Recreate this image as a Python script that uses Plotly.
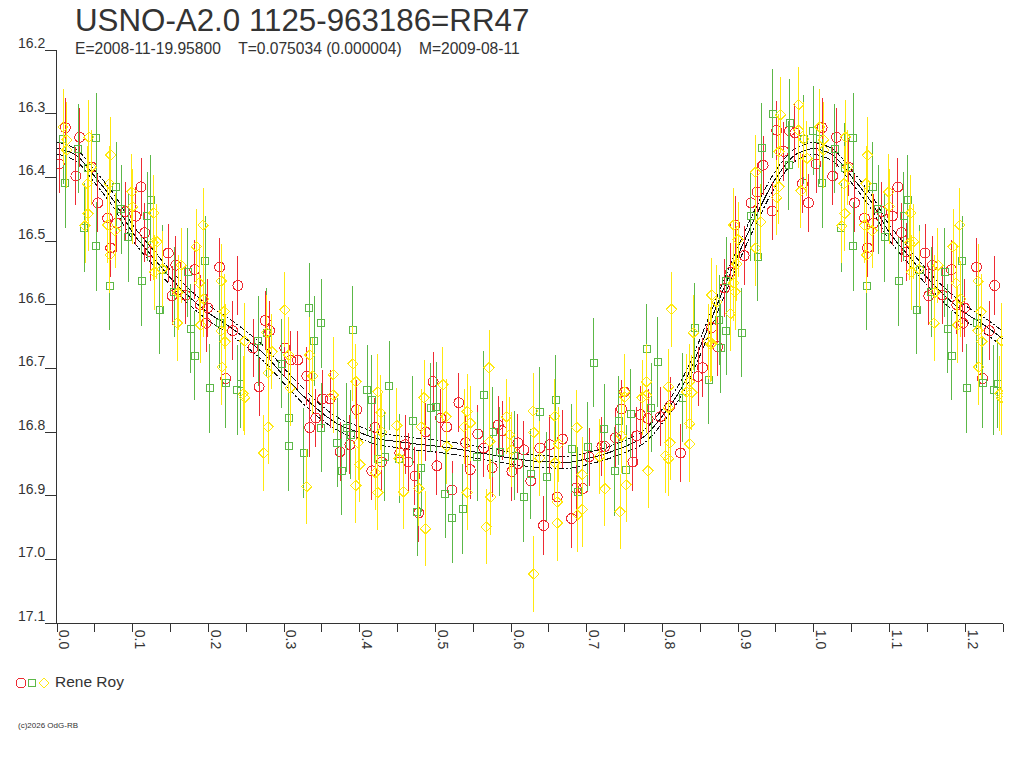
import plotly.graph_objects as go

# light curve values, phase 0-1 (phase 1-1.25 is the same data repeated)
red_phase = [.003,.011,.025,.030,.046,.054,.067,.071,.079,.090,.104,.111,.116,.123,.147,.152,.157,.170,.182,.189,.197,.199,.215,.223,.232,.239,.259,.267,.275,.281,.301,.309,.318,.330,.334,.342,.351,.361,.374,.387,.396,.416,.420,.429,.453,.460,.464,.473,.478,.487,.497,.502,.507,.515,.522,.531,.540,.546,.556,.564,.575,.583,.588,.601,.609,.609,.617,.626,.638,.643,.651,.661,.668,.680,.686,.695,.703,.720,.724,.738,.746,.750,.761,.766,.771,.781,.797,.810,.824,.847,.853,.865,.873,.882,.890,.896,.908,.917,.925,.933,.945,.951,.960,.968,.975,.985,.993]
red_mag = [16.379,16.322,16.398,16.337,16.384,16.440,16.464,16.511,16.472,16.454,16.461,16.415,16.487,16.517,16.519,16.586,16.538,16.585,16.545,16.600,16.629,16.605,16.541,16.716,16.641,16.570,16.668,16.729,16.625,16.641,16.668,16.687,16.687,16.712,16.793,16.778,16.748,16.748,16.831,16.820,16.765,16.861,16.793,16.847,16.833,16.820,16.847,16.869,16.927,16.800,16.721,16.853,16.778,16.792,16.891,16.754,16.817,16.859,16.803,16.825,16.856,16.789,16.798,16.862,16.817,16.850,16.828,16.877,16.825,16.947,16.820,16.902,16.811,16.936,16.888,16.889,16.839,16.823,16.823,16.809,16.764,16.737,16.847,16.806,16.773,16.779,16.776,16.759,16.833,16.713,16.699,16.636,16.666,16.574,16.549,16.475,16.523,16.440,16.423,16.381,16.453,16.326,16.359,16.327,16.330,16.410,16.440]

green_phase = [.008,.011,.028,.036,.041,.052,.052,.070,.078,.085,.094,.112,.119,.124,.136,.140,.155,.173,.177,.182,.196,.202,.215,.223,.238,.243,.266,.277,.297,.306,.306,.326,.333,.340,.349,.349,.370,.376,.383,.388,.391,.410,.416,.424,.433,.439,.452,.470,.476,.481,.494,.501,.513,.522,.536,.555,.564,.576,.585,.605,.617,.626,.638,.647,.659,.680,.688,.701,.709,.723,.737,.742,.752,.758,.779,.785,.794,.827,.843,.861,.875,.877,.884,.884,.905,.917,.926,.931,.946,.967,.968,.987,.999]
green_mag = [16.340,16.409,16.355,16.479,16.385,16.338,16.508,16.570,16.415,16.450,16.494,16.563,16.461,16.435,16.608,16.545,16.580,16.549,16.638,16.680,16.531,16.731,16.629,16.723,16.734,16.724,16.657,16.644,16.693,16.778,16.822,16.833,16.605,16.657,16.629,16.793,16.817,16.861,16.793,16.804,16.640,16.734,16.749,16.842,16.839,16.727,16.842,16.782,16.925,16.856,16.762,16.760,16.897,16.935,16.921,16.839,16.742,16.800,16.831,16.837,16.902,16.866,16.768,16.870,16.749,16.826,16.894,16.823,16.691,16.795,16.862,16.782,16.859,16.771,16.669,16.762,16.690,16.746,16.636,16.718,16.624,16.668,16.563,16.641,16.644,16.461,16.525,16.354,16.300,16.381,16.315,16.340,16.327]

yellow_phase = [.008,.013,.013,.037,.040,.041,.042,.045,.067,.069,.070,.071,.077,.099,.100,.127,.128,.129,.132,.139,.159,.160,.164,.184,.188,.190,.193,.194,.217,.217,.218,.221,.222,.246,.248,.248,.273,.277,.279,.279,.284,.301,.306,.308,.330,.334,.338,.365,.365,.391,.395,.395,.398,.400,.421,.424,.424,.428,.429,.449,.452,.458,.478,.481,.485,.487,.510,.514,.515,.538,.542,.542,.546,.567,.571,.572,.573,.594,.598,.601,.629,.630,.630,.638,.658,.658,.661,.661,.663,.687,.688,.694,.694,.717,.724,.744,.746,.750,.750,.752,.773,.779,.779,.781,.804,.808,.808,.808,.810,.812,.832,.836,.836,.836,.839,.841,.861,.864,.865,.865,.872,.890,.894,.894,.896,.898,.900,.923,.923,.930,.951,.954,.954,.956,.980,.980,.983,.987,.991]
yellow_mag = [16.321,16.341,16.357,16.476,16.410,16.457,16.337,16.384,16.475,16.410,16.522,16.365,16.484,16.423,16.446,16.503,16.456,16.549,16.501,16.544,16.629,16.581,16.538,16.509,16.566,16.632,16.475,16.591,16.563,16.641,16.698,16.611,16.658,16.740,16.746,16.657,16.833,16.644,16.707,16.792,16.674,16.608,16.679,16.731,16.886,16.679,16.712,16.710,16.742,16.693,16.721,16.884,16.817,16.851,16.864,16.895,16.737,16.770,16.800,16.790,16.842,16.894,16.889,16.792,16.746,16.952,16.726,16.776,16.823,16.792,16.768,16.895,16.786,16.949,16.699,16.815,16.902,16.776,16.804,16.828,16.767,16.801,17.023,16.841,16.775,16.848,16.910,16.943,16.819,16.793,16.930,16.867,16.922,16.839,16.889,16.925,16.806,16.737,16.745,16.883,16.746,16.721,16.742,16.861,16.837,16.729,16.762,16.842,16.817,16.607,16.737,16.721,16.787,16.819,16.738,16.644,16.658,16.663,16.585,16.661,16.596,16.614,16.566,16.475,16.580,16.536,16.498,16.392,16.511,16.470,16.432,16.360,16.415,16.302,16.286,16.326,16.421,16.340,16.370]

red_err = 0.046
green_err = 0.070
yellow_err = 0.059

# fitted curve and its error band
curve_phase = [0,.025,.05,.075,.1,.125,.15,.175,.2,.225,.25,.275,.3,.325,.35,.375,.4,.425,.45,.475,.5,.525,.55,.575,.6,.625,.65,.675,.7,.725,.75,.775,.8,.825,.85,.875,.9,.925,.95,.975,1.0]
curve_mag = [16.354,16.365,16.399,16.437,16.487,16.523,16.558,16.588,16.613,16.632,16.654,16.679,16.712,16.743,16.770,16.790,16.801,16.811,16.815,16.819,16.822,16.826,16.831,16.836,16.841,16.845,16.847,16.848,16.842,16.834,16.823,16.808,16.775,16.731,16.666,16.592,16.522,16.457,16.401,16.365,16.354]
band_halfwidth = [.0094,.0094,.010,.011,.012,.012,.012,.012,.012,.012,.012,.012,.012,.012,.011,.010,.0094,.0094,.0094,.0094,.0094,.0094,.0094,.0094,.0094,.0094,.0094,.0094,.0094,.0094,.0094,.010,.011,.012,.013,.013,.013,.013,.012,.010,.0094]

y_ticks = [16.2,16.3,16.4,16.5,16.6,16.7,16.8,16.9,17.0,17.1]
x_ticks = [0,.1,.2,.3,.4,.5,.6,.7,.8,.9,1.0,1.1,1.2]

TITLE = "USNO-A2.0 1125-963186=RR47"
SUBTITLE = "E=2008-11-19.95800    T=0.075034 (0.000004)    M=2009-08-11"

RED = "#ee2b33"
GREEN = "#5cb848"
YELLOW = "#ffe810"
DARK = "#333333"
FONT = "Liberation Sans"


def wrap(phase, mag):
    # phase plot runs on to 1.25
    xs = list(phase) + [p + 1 for p in phase if p + 1 <= 1.25]
    ys = list(mag) + [m for p, m in zip(phase, mag) if p + 1 <= 1.25]
    return xs, ys


fig = go.Figure()

# curve goes under the points
cx, cy = wrap(curve_phase, curve_mag)
_, hw = wrap(curve_phase, band_halfwidth)
order = sorted(range(len(cx)), key=lambda i: cx[i])
cx = [cx[i] for i in order]
cy = [cy[i] for i in order]
hw = [hw[i] for i in order]

fig.add_trace(go.Scatter(x=cx, y=cy, mode="lines", line=dict(color="#111111", width=1, shape="spline")))
fig.add_trace(go.Scatter(x=cx, y=[m - h for m, h in zip(cy, hw)], mode="lines",
                         line=dict(color="#111111", width=1, dash="6px,2px,2px,2px", shape="spline")))
fig.add_trace(go.Scatter(x=cx, y=[m + h for m, h in zip(cy, hw)], mode="lines",
                         line=dict(color="#111111", width=1, dash="6px,2px,2px,2px", shape="spline")))

for name, phase, mag, err, color, symbol, size in [
    ("red", red_phase, red_mag, red_err, RED, "circle-open", 10),
    ("green", green_phase, green_mag, green_err, GREEN, "square-open", 7),
    ("yellow", yellow_phase, yellow_mag, yellow_err, YELLOW, "diamond-open", 8),
]:
    xs, ys = wrap(phase, mag)
    fig.add_trace(go.Scatter(x=xs, y=ys, mode="markers", name=name,
                             marker=dict(symbol=symbol, size=size, color=color, line=dict(width=1, color=color)),
                             error_y=dict(type="constant", value=err, color=color, thickness=1, width=0)))

# legend keys sit on a full-page axis pair
for key_x, color, symbol, size in [(21, RED, "circle-open", 10), (32, GREEN, "square-open", 7), (44, YELLOW, "diamond-open", 8)]:
    fig.add_trace(go.Scatter(x=[key_x], y=[683], xaxis="x2", yaxis="y2", mode="markers",
                             marker=dict(symbol=symbol, size=size, color=color, line=dict(width=1, color=color))))

fig.update_layout(
    width=1024, height=768,
    margin=dict(l=0, r=0, t=0, b=0, autoexpand=False),
    paper_bgcolor="white", plot_bgcolor="rgba(0,0,0,0)",
    showlegend=False,
    font=dict(family=FONT, color=DARK, size=14),
    xaxis=dict(domain=[57 / 1024, 1003 / 1024], range=[0, 1.25], tickvals=x_ticks, tickformat=".1f", showgrid=False,
               zeroline=False, ticks="outside", ticklen=8, tickwidth=1, tickcolor=DARK, tickangle=90,
               ticklabelshift=7, ticklabelstandoff=-5,
               minor=dict(dtick=0.05, ticks="outside", ticklen=8, tickwidth=1, tickcolor=DARK, showgrid=False),
               showline=True, linecolor=DARK, linewidth=1, tickfont=dict(size=14, color=DARK)),
    yaxis=dict(domain=[1 - 623 / 768, 1 - 50 / 768], range=[17.1, 16.2], tickvals=y_ticks, tickformat=".1f",
               showgrid=False, zeroline=False, ticks="outside", ticklen=11, tickwidth=1, tickcolor=DARK,
               ticklabelshift=7, ticklabelstandoff=-3,
               showline=True, linecolor=DARK, linewidth=1, tickfont=dict(size=14, color=DARK)),
    xaxis2=dict(domain=[0, 1], range=[0, 1024], anchor="y2", visible=False, fixedrange=True),
    yaxis2=dict(domain=[0, 1], range=[768, 0], anchor="x2", visible=False, fixedrange=True),
)

fig.add_annotation(text=TITLE, xref="x2", yref="y2", x=73, y=20, showarrow=False,
                   xanchor="left", yanchor="middle", font=dict(size=31.3, color=DARK))
fig.add_annotation(text=SUBTITLE.replace(" ", "\u00a0"), xref="x2", yref="y2", x=73, y=48.5,
                   showarrow=False, xanchor="left", yanchor="middle", font=dict(size=15.6, color=DARK))
fig.add_annotation(text="Rene Roy", xref="x2", yref="y2", x=53, y=681.5, showarrow=False, xanchor="left",
                   yanchor="middle", font=dict(size=15.5, color=DARK))
fig.add_annotation(text="(c)2026 OdG-RB", xref="x2", yref="y2", x=16, y=725, showarrow=False, xanchor="left",
                   yanchor="middle", font=dict(size=8, color=DARK))
fig.add_annotation(text=">", xref="x", yref="y", x=-0.006, y=16.37, showarrow=False, font=dict(size=13, color=DARK))
fig.add_annotation(text="<", xref="x", yref="y", x=1.256, y=16.37, showarrow=False, font=dict(size=13, color=DARK))

fig.write_html("out.html", config={"displayModeBar": False},
               post_script="document.body.style.margin='0';var s=document.createElement('style');"
                           "s.textContent='path{shape-rendering:crispEdges}';document.head.appendChild(s);")
